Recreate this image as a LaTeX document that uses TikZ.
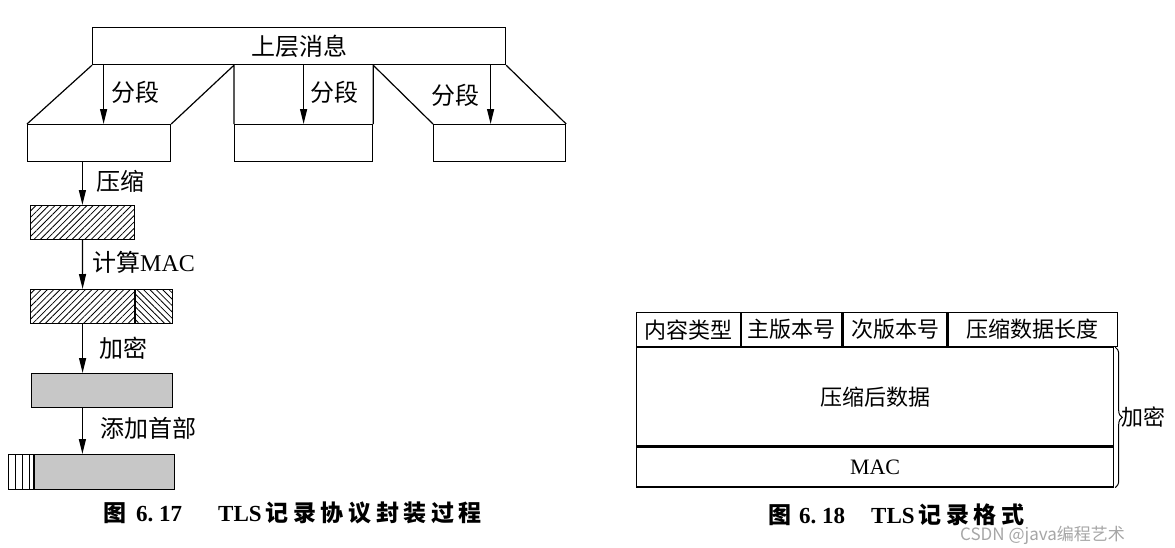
\documentclass[tikz,border=0pt]{standalone}
\usepackage{fontspec}
\setmainfont{Liberation Serif}
\newfontfamily\cjk{Noto Sans CJK SC}
\newfontfamily\capcjk[LetterSpace=20]{Noto Sans CJK SC}
\usetikzlibrary{positioning}
\usetikzlibrary{arrows.meta,patterns.meta,decorations.pathreplacing}
\tikzset{%
  blk/.style = {rectangle,draw,line width=1.2pt,inner sep=0pt,
        anchor=north west},
  arr/.style = {-{Triangle[length=15pt,width=7pt]},line width=1.2pt},
  lbl/.style = {inner sep=0pt,font=\cjk\fontsize{24pt}{28pt}\selectfont},
  fld/.style = {blk,minimum height=34pt,
        font=\cjk\fontsize{22pt}{26pt}\selectfont},
  hatch/.style = {pattern={Lines[angle=#1,distance=4.5pt,line width=0.8pt]}},
  dots/.style = {fill=black!22},
  captxt/.style = {inner sep=0pt,anchor=west,
        font=\bfseries\fontsize{23pt}{26pt}\selectfont}
}

\begin{document}
\begin{tikzpicture}[x=1pt,y=-1pt]
\useasboundingbox (0,0) rectangle (1175,547);

% fig 6.17: upper layer message cut into fragments
\node[blk,minimum width=413pt,minimum height=37pt,
      font=\cjk\fontsize{24pt}{28pt}\selectfont] (msg) at (92,27) {上层消息};
\node[blk,minimum width=143pt,minimum height=37pt] (segA) at (27,124) {};
\node[blk,minimum width=138pt,minimum height=37pt] (segB) at (234,124) {};
\node[blk,minimum width=132pt,minimum height=37pt] (segC) at (433,124) {};

\draw[line width=1.2pt] (msg.south west) -- (segA.north west)
      (msg.south -| segB.west) -- (segA.north east)
      (msg.south -| segB.west) -- (segB.north west)
      (msg.south -| segB.east) -- (segB.north east)
      (msg.south -| segB.east) -- (segC.north west)
      (msg.south east) -- (segC.north east);

\path[arr] ([xshift=4.5pt]segA.north |- msg.south) edge ([xshift=4.5pt]segA.north)
           (segB.north |- msg.south) edge (segB.north)
           ([xshift=-9pt]segC.north |- msg.south) edge ([xshift=-9pt]segC.north);

\node[lbl,anchor=west] (cutA) at (111,92) {分段};
\node[lbl,anchor=west] (cutB) at (310,92) {分段};
\node[lbl,anchor=east] (cutC) at (480,95) {分段};

% processing chain of the first fragment
\node[blk,hatch=45,minimum width=104pt,minimum height=34pt] (c1) at (30,205) {};
\node[blk,hatch=45,minimum width=104pt,minimum height=34pt] (c2a) at (30,289) {};
\node[blk,hatch=-45,minimum width=37pt,minimum height=34pt,
      right=0pt of c2a] (c2b) {};
\node[blk,dots,minimum width=141pt,minimum height=34pt] (c3) at (31,373) {};
\node[blk,minimum width=25pt,minimum height=35pt] (c4h) at (8,454) {};
\node[blk,dots,minimum width=140pt,minimum height=35pt,
      right=0pt of c4h] (c4d) {};
\foreach \k in {1,2,3}
  \draw[line width=1pt] ([xshift={7pt*\k}]c4h.north west)
        -- ([xshift={7pt*\k}]c4h.south west);

\path[arr] (segA.south -| c1.north) edge (c1.north)
           (c1.south) edge (c2a.north)
           (c2a.south) edge (c2a.south |- c3.north)
           (c3.south -| c1.south) edge (c4d.north -| c1.south);

\node[lbl,anchor=west] (zip) at (96,181) {压缩};
\node[lbl,anchor=west] (mac) at (92,262) {计算\rmfamily MAC};
\node[lbl,anchor=west] (enc) at (99,348) {加密};
\node[lbl,anchor=west] (hdr) at (100,428) {添加首部};

\node[captxt] (cap1) at (103,513) {{\capcjk 图}\hspace{10pt}6.~17\hspace{36pt}TLS\hspace{4pt}{\capcjk 记录协议封装过程}};

% fig 6.18: record format
\node[fld,minimum width=104pt] (ctype) at (636,312) {内容类型};
\node[fld,minimum width=100pt,right=0pt of ctype] (major) {主版本号};
\node[fld,minimum width=104pt,right=0pt of major] (minor) {次版本号};
\node[fld,minimum width=169pt,right=0pt of minor] (len) {压缩数据长度};
\node[fld,minimum width=477pt,minimum height=98pt] (data) at (ctype.south west) {压缩后数据};
\node[fld,minimum width=477pt,minimum height=40pt,
      font=\rmfamily\fontsize{22pt}{26pt}\selectfont] (macf) at (data.south west) {MAC};

\draw[decorate,decoration={brace,amplitude=7pt},line width=1pt]
      ([xshift=1pt]data.north east) -- ([xshift=1pt]macf.south east);
\node[lbl,anchor=west,font=\cjk\fontsize{22pt}{26pt}\selectfont] (enc2) at (1121,417) {加密};

\node[captxt] (cap2) at (768,515) {{\capcjk 图}\hspace{8pt}6.~18\hspace{26pt}TLS\hspace{4pt}{\capcjk 记录格式}};
\node[inner sep=0pt,anchor=west,text=black!35,
      font=\cjk\fontsize{17pt}{20pt}\selectfont] (wm) at (960,535) {CSDN @java编程艺术};
\end{tikzpicture}
\end{document}
